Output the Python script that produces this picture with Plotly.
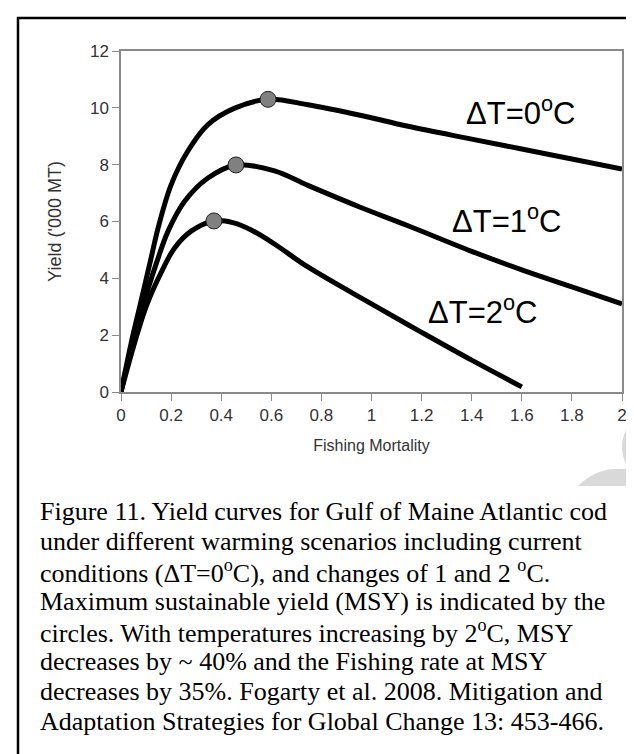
import plotly.graph_objects as go

# ---- data ----
f_0c = [0, 0.04, 0.08, 0.12, 0.148, 0.2, 0.267, 0.347, 0.454, 0.587, 0.746, 0.95, 1.146, 1.4, 1.6, 1.8, 2.0]
y_0c = [0, 1.7, 3.2, 4.71, 5.77, 7.29, 8.48, 9.41, 9.99, 10.3, 10.11, 9.75, 9.35, 8.9, 8.55, 8.2, 7.85]

f_1c = [0, 0.04, 0.09, 0.14, 0.188, 0.254, 0.347, 0.459, 0.613, 0.746, 0.95, 1.146, 1.4, 1.6, 1.8, 2.0]
y_1c = [0, 1.5, 3.1, 4.5, 5.66, 6.71, 7.53, 7.99, 7.78, 7.27, 6.52, 5.85, 4.95, 4.3, 3.7, 3.1]

f_2c = [0, 0.05, 0.1, 0.16, 0.214, 0.28, 0.371, 0.45, 0.52, 0.614, 0.746, 1.0, 1.2, 1.4, 1.6]
y_2c = [0, 1.6, 3.0, 4.2, 5.07, 5.66, 6.02, 5.95, 5.7, 5.2, 4.4, 3.1, 2.1, 1.12, 0.18]

msy_f = [0.587, 0.459, 0.371]
msy_y = [10.3, 7.99, 6.02]

curve_labels = ["ΔT=0<sup>o</sup>C", "ΔT=1<sup>o</sup>C", "ΔT=2<sup>o</sup>C"]
label_f = [1.593, 1.537, 1.445]
label_y = [9.89, 6.09, 2.9]

x_ticks = [0, 0.2, 0.4, 0.6, 0.8, 1, 1.2, 1.4, 1.6, 1.8, 2]
x_tick_text = ["0", "0.2", "0.4", "0.6", "0.8", "1", "1.2", "1.4", "1.6", "1.8", "2"]
y_ticks = [0, 2, 4, 6, 8, 10, 12]

caption_lines = [
    "Figure 11. Yield curves for Gulf of Maine Atlantic cod",
    "under different warming scenarios including current",
    "conditions (ΔT=0<sup>o</sup>C), and changes of 1 and 2 <sup>o</sup>C.",
    "Maximum sustainable yield (MSY) is indicated by the",
    "circles. With temperatures increasing by 2<sup>o</sup>C, MSY",
    "decreases by ~ 40% and the Fishing rate at MSY",
    "decreases by 35%. Fogarty et al. 2008. Mitigation and",
    "Adaptation Strategies for Global Change 13: 453-466.",
]

# ---- layout geometry (pixels) ----
W, H = 634, 754
L, R, T, B = 113, 614, 43, 384


def px(x):
    return (x - L) / (R - L)


def py(y):
    return (B - y) / (B - T)


sans = "Liberation Sans, Arial, sans-serif"
serif = "Liberation Serif, Times New Roman, serif"

fig = go.Figure()
for fx, fy in [(f_0c, y_0c), (f_1c, y_1c), (f_2c, y_2c)]:
    fig.add_trace(go.Scatter(x=fx, y=fy, mode="lines",
                             line=dict(color="black", width=5, shape="spline", smoothing=1.0),
                             hoverinfo="skip", showlegend=False))
fig.add_trace(go.Scatter(x=msy_f, y=msy_y, mode="markers",
                         marker=dict(size=16, color="#808080", line=dict(color="#222222", width=1)),
                         showlegend=False))

for txt, lx, ly in zip(curve_labels, label_f, label_y):
    fig.add_annotation(x=lx, y=ly, xref="x", yref="y", text=txt, showarrow=False,
                       font=dict(family=sans, size=31, color="black"),
                       xanchor="center", yanchor="middle")

cap_y0, cap_dy = 503, 30
for i, line in enumerate(caption_lines):
    fig.add_annotation(x=px(30), y=py(cap_y0 + i * cap_dy), xref="paper", yref="paper",
                       text=line, showarrow=False, xanchor="left", yanchor="middle",
                       font=dict(family=serif, size=26, color="black"))

shapes = [
    # outer frame
    dict(type="rect", xref="paper", yref="paper", x0=px(10), x1=px(631), y0=py(770), y1=py(10),
         line=dict(color="black", width=2.5), fillcolor="rgba(0,0,0,0)", layer="above"),
    # faint watermark fragments
    dict(type="path", xref="paper", yref="paper",
         path=f"M {px(624)} {py(412)} Q {px(604)} {py(439)} {px(624)} {py(466)} Z",
         fillcolor="#d9d9d9", line=dict(width=0), layer="below"),
    dict(type="path", xref="paper", yref="paper",
         path=f"M {px(570)} {py(478)} Q {px(592)} {py(456)} {px(624)} {py(462)} L {px(624)} {py(478)} Z",
         fillcolor="#d9d9d9", line=dict(width=0), layer="below"),
]

fig.update_layout(
    width=W, height=H,
    margin=dict(l=L, r=W - R, t=T, b=H - B),
    paper_bgcolor="white", plot_bgcolor="white",
    shapes=shapes,
    xaxis=dict(range=[0, 2], tickvals=x_ticks, ticktext=x_tick_text,
               showgrid=False, zeroline=False, showline=True, linecolor="#8a8a8a", linewidth=1.5,
               mirror=True, ticks="outside", ticklen=7, tickcolor="#8a8a8a",
               tickfont=dict(family=sans, size=17, color="#333333"),
               title=dict(text="Fishing Mortality", standoff=16,
                          font=dict(family=sans, size=16, color="#333333"))),
    yaxis=dict(range=[0, 12], tickvals=y_ticks,
               showgrid=False, zeroline=False, showline=True, linecolor="#8a8a8a", linewidth=1.5,
               mirror=True, ticks="outside", ticklen=7, tickcolor="#8a8a8a",
               tickfont=dict(family=sans, size=17, color="#333333"),
               title=dict(text="Yield ('000 MT)", standoff=24,
                          font=dict(family=sans, size=18, color="#333333"))),
)

fig.write_html("out.html")
